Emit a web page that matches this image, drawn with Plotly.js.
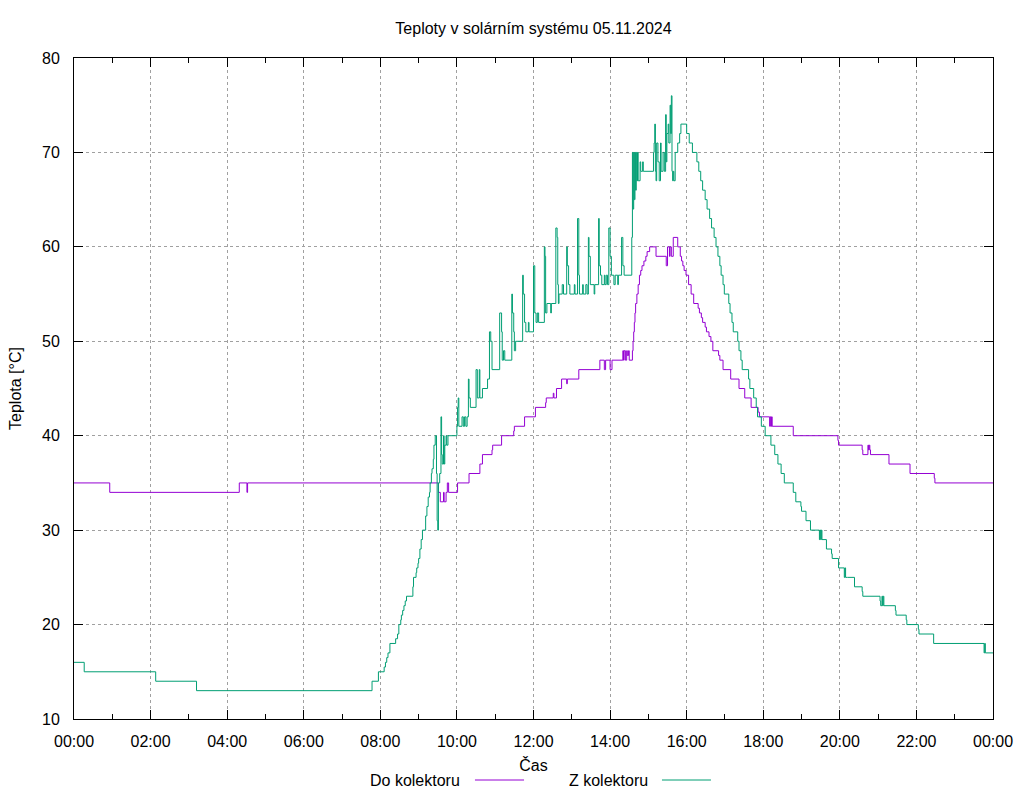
<!DOCTYPE html>
<html>
<head>
<meta charset="utf-8">
<script src="https://cdn.plot.ly/plotly-3.0.1.min.js"></script>
<style>html,body{margin:0;padding:0;background:#fff;}#chart{width:1024px;height:800px;}</style>
</head>
<body>
<div id="chart"></div>
<script>
// ---- data (time of change "HH:MM", temperature in °C; drawn as steps) ----
const chartTitle = "Teploty v solárním systému 05.11.2024";
const dayDate = "2024-11-05";
const nextDate = "2024-11-06";
const seriesNames = ["Do kolektoru", "Z kolektoru"];

const doTime = ["00:00","00:56","04:19","04:31","04:32","09:31","09:34","09:39","09:40","09:43","09:45","09:47","10:01","10:19","10:36","10:40","10:55","10:56","11:10","11:29","11:30","11:46","12:03","12:19","12:20","12:31","12:32","12:36","12:44","12:52","12:53","13:11","13:44","13:51","13:53","14:00","14:03","14:20","14:21","14:22","14:24","14:26","14:27","14:29","14:30","14:35","14:36","14:37","14:38","14:39","14:40","14:42","14:44","14:46","14:48","14:50","14:53","14:56","14:58","15:02","15:12","15:28","15:30","15:33","15:34","15:36","15:39","15:46","15:50","15:52","15:54","15:56","15:59","16:03","16:07","16:11","16:18","16:20","16:23","16:25","16:29","16:31","16:35","16:38","16:41","16:50","16:52","16:57","17:09","17:22","17:31","17:41","17:52","17:54","18:10","18:11","18:12","18:13","18:14","18:47","19:57","19:58","20:35","20:36","20:44","20:45","20:46","20:47","20:48","21:17","21:50","22:28","22:29","24:00"];
const doTemp = [35,34,35,34,35,34,33,34,33,34,35,34,35,36,37,38,38.5,39,40,40.5,41,42,43,43.5,44,44.5,44,45,46,45.5,46,47,48,47,48,47,48,49,48,49,48,49,48.5,49,48,49,50,51,52,53,54,55,56,57,57.5,58,58.5,59,59.5,60,59,58,60,59,60,59,61,60,59,58.5,58,57.5,57,56,55,54,53.5,53,52.5,52,51.5,51,50.5,50,49,48.5,48,47,46,45,44,43,42.5,42,41,42,41,42,41,40,39.5,39,38.5,38,39,38.5,39,38.5,38,37,36,35.5,35,35];

const zTime = ["00:00","00:16","02:08","03:12","07:47","07:57","08:06","08:08","08:10","08:12","08:15","08:24","08:27","08:29","08:32","08:33","08:35","08:37","08:39","08:41","08:51","08:52","08:56","08:57","08:59","09:00","09:02","09:04","09:06","09:11","09:13","09:15","09:17","09:18","09:20","09:21","09:23","09:24","09:26","09:28","09:29","09:30","09:31","09:33","09:35","09:36","09:37","09:39","09:40","09:41","09:43","09:44","09:46","10:00","10:01","10:02","10:03","10:08","10:10","10:12","10:14","10:16","10:18","10:19","10:21","10:30","10:32","10:35","10:36","10:40","10:48","10:51","10:53","10:55","11:07","11:10","11:11","11:13","11:15","11:26","11:27","11:29","11:30","11:32","11:43","11:44","11:46","11:48","11:52","11:53","12:00","12:02","12:04","12:06","12:08","12:17","12:18","12:19","12:21","12:27","12:28","12:35","12:37","12:38","12:39","12:40","12:45","12:47","12:52","12:53","12:55","12:57","13:04","13:05","13:09","13:11","13:12","13:17","13:18","13:22","13:24","13:26","13:27","13:29","13:35","13:36","13:42","13:43","13:45","13:47","13:51","13:52","13:54","13:56","13:58","14:00","14:02","14:06","14:08","14:12","14:13","14:18","14:20","14:22","14:34","14:35","14:36","14:37","14:38","14:39","14:40","14:41","14:42","14:43","14:44","14:47","14:48","14:51","14:52","15:08","15:09","15:10","15:11","15:12","15:13","15:15","15:17","15:19","15:20","15:23","15:25","15:27","15:28","15:29","15:31","15:32","15:34","15:35","15:36","15:37","15:38","15:39","15:40","15:42","15:46","15:49","15:51","16:00","16:04","16:09","16:16","16:19","16:22","16:25","16:29","16:32","16:36","16:39","16:43","16:46","16:49","16:52","16:54","16:57","16:59","17:06","17:08","17:11","17:13","17:20","17:22","17:25","17:27","17:37","17:39","17:45","17:49","17:51","17:57","18:03","18:12","18:18","18:23","18:28","18:33","18:47","18:51","18:59","19:00","19:07","19:14","19:28","19:29","19:30","19:31","19:32","19:39","19:47","19:48","19:58","20:07","20:08","20:09","20:12","20:23","20:35","20:36","21:03","21:04","21:06","21:07","21:08","21:09","21:27","21:28","21:44","21:45","22:03","22:04","22:27","23:46","23:47","23:48","24:00"];
const zTemp = [16,15,14,13,14,15,15.5,16,16.5,17,18,18.5,19,20,20.5,21,21.5,22,22.5,23,24,25,25.5,26,26.5,27,28,29,30,31.5,32.5,33.5,34,35,36,36.5,37.5,39,40,36,31,30,35,36,42,38,37,40,37,39,40,39,40,41,43,44,41,42,41,42,41,42,46,44,43,47,44,47,44,45,46,51,50,47,53,51,48,49,48,55,53,51,49,50,57,55,52,51,52,51,58,53,52,53,52,60,59,53,54,53,54,62,61,56,54,55,56,55,60,58,56,55,56,55,63,57,55,56,55,56,55,61,59,56,55,56,63,58,57,56,57,56,57,56,62,59,57,56,57,56,57,61,58,57,61,70,64,70,65,70,66,70,67,70,67,69,68,69,68,70,71,73,68,67,71,69,67,71,68,70,68,74,69,72,73,71,75,72,76,68,67,68,67,70,71,72,73,72,71,70,69,68,67,66,65,64,63,62,61,60,59,58,57,56,55,54,53,52,51,50,49,48,47,46,45,44,43,42,41,40,39,38,37,36,35,34,33,32.5,32,31,30,29,30,29,30,29,28,27.5,27,26,25,26,25,25,24,23.5,23,22.5,22,23,22,23,22,21.5,21,20.5,20,19.5,19,18,17,18,17,17];

const yTicks = [10,20,30,40,50,60,70,80];

function toDate(s) {
  return s === "24:00" ? nextDate + " 00:00" : dayDate + " " + s;
}

const colors = ["#9400d3", "#009e73"];
const fontFam = "Liberation Sans, Arial, sans-serif";

const traces = [
  {x: doTime.map(toDate), y: doTemp, name: seriesNames[0], type: "scatter", mode: "lines",
   line: {color: colors[0], width: 1, shape: "hv"}},
  {x: zTime.map(toDate), y: zTemp, name: seriesNames[1], type: "scatter", mode: "lines",
   line: {color: colors[1], width: 1, shape: "hv"}}
];

const legY = -0.0923;
const layout = {
  width: 1024, height: 800,
  margin: {l: 74, r: 31, t: 58, b: 81},
  paper_bgcolor: "#fff", plot_bgcolor: "#fff",
  font: {family: fontFam, size: 16, color: "#000"},
  showlegend: false,
  title: {text: chartTitle, x: 0.5, xref: "paper", y: 0.965, yref: "container", yanchor: "middle",
          font: {family: fontFam, size: 16, color: "#000"}},
  xaxis: {
    type: "date",
    range: [dayDate + " 00:00", nextDate + " 00:00"],
    dtick: 7200000, tick0: dayDate + " 00:00", tickformat: "%H:%M",
    ticks: "inside", ticklen: 9, tickcolor: "#000", tickwidth: 1,
    showline: true, linecolor: "#000", linewidth: 1, mirror: "ticks",
    showgrid: true, gridcolor: "#a0a0a0", griddash: "3px,3px", gridwidth: 1,
    zeroline: false,
    minor: {dtick: 3600000, ticks: "inside", ticklen: 5, tickcolor: "#000", showgrid: false},
    ticklabelstandoff: 8,
    tickfont: {family: fontFam, size: 16, color: "#000"},
    title: {text: "Čas", standoff: 10, font: {family: fontFam, size: 16, color: "#000"}}
  },
  yaxis: {
    range: [10, 80], tickvals: yTicks,
    ticks: "inside", ticklen: 9, tickcolor: "#000", tickwidth: 1,
    showline: true, linecolor: "#000", linewidth: 1, mirror: "ticks",
    showgrid: true, gridcolor: "#a0a0a0", griddash: "3px,3px", gridwidth: 1,
    zeroline: false,
    ticklabelstandoff: 10,
    tickfont: {family: fontFam, size: 16, color: "#000"},
    title: {text: "Teplota [°C]", standoff: 16, font: {family: fontFam, size: 16, color: "#000"}}
  },
  annotations: [
    {text: seriesNames[0], xref: "paper", yref: "paper", x: 0.4222, y: legY, xanchor: "right", yanchor: "middle", showarrow: false,
     font: {family: fontFam, size: 16, color: "#000"}},
    {text: seriesNames[1], xref: "paper", yref: "paper", x: 0.6268, y: legY, xanchor: "right", yanchor: "middle", showarrow: false,
     font: {family: fontFam, size: 16, color: "#000"}}
  ],
  shapes: [
    {type: "line", xref: "paper", yref: "paper", x0: 0.4363, x1: 0.4897, y0: legY, y1: legY, line: {color: colors[0], width: 1}},
    {type: "line", xref: "paper", yref: "paper", x0: 0.6398, x1: 0.6931, y0: legY, y1: legY, line: {color: colors[1], width: 1}}
  ]
};

Plotly.newPlot("chart", traces, layout, {displayModeBar: false, staticPlot: true});
</script>
</body>
</html>
